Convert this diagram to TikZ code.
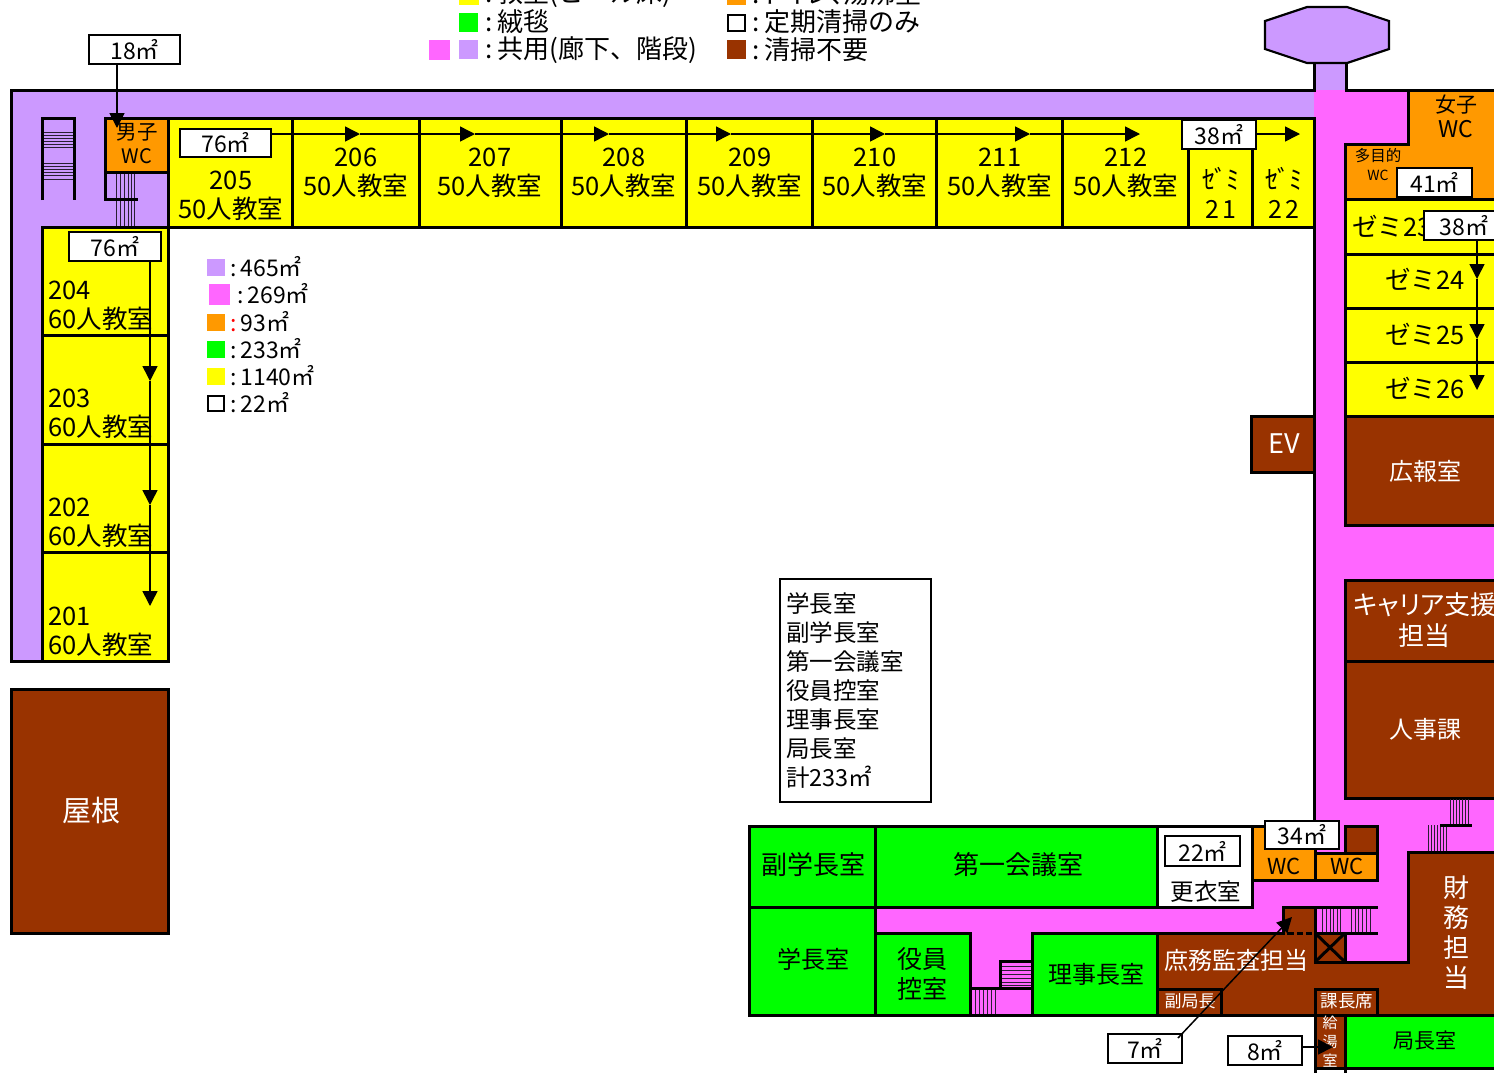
\documentclass[tikz,border=0pt]{standalone}
\usepackage{fontspec}
\setmainfont{Noto Sans CJK JP}
\newfontfamily\propfont[RawFeature=+palt]{Noto Sans CJK JP}
\usetikzlibrary{arrows.meta}
\definecolor{lilac}{HTML}{CC99FF}
\definecolor{pinkc}{HTML}{FF66FF}
\definecolor{yel}{HTML}{FFFF00}
\definecolor{org}{HTML}{FF9900}
\definecolor{grn}{HTML}{00FF00}
\definecolor{brn}{HTML}{993300}
\tikzset{
  wall/.style={line width=3pt,draw=black},
  treads/.style={line width=0.9pt,draw=black!80!lilac},
  tx/.style 2 args={font=\fontsize{#1}{#2}\selectfont,inner sep=0pt,align=center},
  lbl/.style={tx={25.5}{29}},
  wlbl/.style={tx={24}{29},text=white},
  areabox/.style={draw=black,line width=1.8pt,fill=white,inner sep=0pt,font=\fontsize{23}{23}\selectfont},
  conn/.style={line width=1.5pt,draw=black,-{Triangle[length=15pt,width=15pt]}},
  keytext/.style={tx={26}{26},anchor=west},
  areatext/.style={tx={23}{23},anchor=west}
}
\newcommand{\sqm}{㎡}
\newcommand{\colonsp}{:\hspace{5pt}}
\newcommand{\areacolon}{:\hspace{4pt}}
\newcommand{\zemi}{{\fontsize{26}{26}\selectfont ｾ\hspace{-1pt}ﾞ\hspace{-1pt}ﾐ}}
\begin{document}
\begin{tikzpicture}[x=1pt,y=-1pt]
\clip (0,0) rectangle (1494,1072);
\fill[white] (0,0) rectangle (1494,1072);
% ---- floor fills
\fill[lilac] (11,90) -- (1314,90) -- (1314,118) -- (168.5,118) -- (168.5,227) -- (42.5,227) -- (42.5,661) -- (11,661) -- cycle;
\fill[pinkc] (1314,90) rectangle (1408,144);
\fill[pinkc] (1314,90) rectangle (1346,880);
\fill[pinkc] (1346,525) rectangle (1500,580);
\fill[pinkc] (1346,798) rectangle (1500,852);
\fill[pinkc] (1377,798) rectangle (1408,962);
\fill[pinkc] (1157,880) rectangle (1408,907);
\fill[pinkc] (875.5,907) rectangle (1283,933);
\fill[pinkc] (970,933) rectangle (1032,1015);
\fill[pinkc] (1315,907) rectangle (1408,962);
\fill[brn] (1157,933) -- (1283,933) -- (1283,907) -- (1315,907) -- (1315,962) -- (1408,962) -- (1408,852) -- (1500,852) -- (1500,1015) -- (1157,1015) -- cycle;
% octagon and stem
\fill[lilac] (1314,63) rectangle (1346,90);
\draw[wall] (1314,90) -- (1314,63) (1346,90) -- (1346,63);
\draw[wall,fill=lilac,line width=2.2pt] (1307,7) -- (1347,7) -- (1389,21) -- (1389,49) -- (1347,63) -- (1307,63) -- (1265,49) -- (1265,21) -- cycle;
% outer walls
\draw[wall] (1315.5,90) -- (11.2,90) -- (11.2,661) -- (42.5,661);
\draw[wall] (1344.5,90) -- (1500,90);
\draw[wall] (1314,227) -- (1314,825);
% left stair
\draw[treads] \foreach \y in {132,135,138,141,144,147,163,166,169,172,175,179} {(43,\y) -- (73,\y)};
\draw[wall] (42.5,200) -- (42.5,118) -- (74.5,118) -- (74.5,200);
% treads below men's WC
\draw[treads] \foreach \x in {116,120,124,128,131,134} {(\x,172) -- (\x,226)};
% men's WC
\draw[wall,fill=org] (105,118) rectangle (168.5,172);
\draw[wall] (105,172) -- (105,199) -- (138,199);
% top classrooms
\foreach \a/\b in {168.5/292.5,292.5/419.5,419.5/561.5,561.5/686.5,686.5/812.5,812.5/936.5,936.5/1062.5,1062.5/1188.5,1188.5/1252,1252/1314}
  \draw[wall,fill=yel] (\a,118) rectangle (\b,227);
% left classrooms
\foreach \a/\b in {227/335,335/444,444/552,552/661}
  \draw[wall,fill=yel] (42.5,\a) rectangle (168.5,\b);
% right column
\draw[wall,fill=org] (1408,90) rectangle (1500,199);
\draw[wall,fill=org] (1345.5,144) rectangle (1408,199);
\fill[org] (1400,146) rectangle (1420,197.5);
\draw[wall,fill=yel] (1345.5,199) rectangle (1500,254);
\draw[wall,fill=yel] (1345.5,254) rectangle (1500,308);
\draw[wall,fill=yel] (1345.5,308) rectangle (1500,362);
\draw[wall,fill=yel] (1345.5,362) rectangle (1500,416);
\draw[wall,fill=brn] (1345.5,416) rectangle (1500,525);
\draw[wall,fill=brn] (1345.5,580) rectangle (1500,661);
\draw[wall,fill=brn] (1345.5,661) rectangle (1500,798);
\draw[wall,fill=brn] (1251,416) rectangle (1314,472);
% roof
\draw[wall,fill=brn] (11.2,689) rectangle (168.5,933);
% lower block: treads by HR
\draw[treads] \foreach \x in {1450,1453,1456,1459,1462,1465,1468} {(\x,799) -- (\x,825)};
\draw[treads] \foreach \x in {1428,1431,1434,1437,1440,1443,1446} {(\x,825) -- (\x,852)};
\draw[wall] (1440,825) -- (1472,825);
% lower block rooms
\draw[wall,fill=grn] (749.5,826) rectangle (875.5,907);
\draw[wall,fill=grn] (875.5,826) rectangle (1157,907);
\draw[wall,fill=grn] (749.5,907) rectangle (875.5,1015);
\draw[wall,fill=grn] (875.5,933) rectangle (970,1015);
\draw[wall,fill=grn] (1032,933) rectangle (1157,1015);
\draw[wall,fill=white] (1157,826) rectangle (1252,907);
\draw[wall,fill=org] (1252,826) rectangle (1315,880);
\draw[wall,fill=org] (1315,853) rectangle (1377,880);
\draw[wall,fill=brn] (1345,826) rectangle (1377,853);
% stairs near 役員控室
\draw[treads] \foreach \y in {966,970,974,978,982,985} {(1001,\y) -- (1031,\y)};
\draw[treads] \foreach \x in {975,979,983,987,991,995} {(\x,989) -- (\x,1014)};
\draw[wall] (970,988) -- (1032,988);
\draw[wall] (1000,988) -- (1000,961) -- (1032,961);
% brown wing walls
\draw[treads] \foreach \x in {1322.5,1326,1330,1333.5,1337,1340.5,1351.5,1355,1358.5,1362,1366,1370} {(\x,908) -- (\x,932)};
\draw[wall] (1157,933) -- (1283,933) -- (1283,907) -- (1378,907);
\draw[wall,dash pattern=on 7pt off 3pt on 6pt off 3pt on 6pt off 3pt on 6pt] (1287,933) -- (1315,933);
\draw[wall] (1315,933) -- (1378,933);
\draw[wall] (1315,907) -- (1315,962) -- (1408,962) -- (1408,852) -- (1500,852);
\fill[brn] (1316.5,934.5) rectangle (1343.5,960.5);
\draw[wall] (1345,933) -- (1345,962);
\draw[wall] (1315,933) -- (1345,962) (1345,933) -- (1315,962);
\draw[wall] (749.5,1015) -- (1500,1015);
% small brown rooms
\draw[wall] (1157,989) -- (1221,989) -- (1221,1015);
\draw[wall] (1315,1015) -- (1315,989) -- (1377,989) -- (1377,1015);
\draw[wall,fill=brn] (1315,1015) rectangle (1345,1068);
\draw[wall] (1315,1068) -- (1315,1075) (1345,1068) -- (1345,1075);
\draw[wall,fill=grn] (1345,1015) rectangle (1500,1068);
% ---- room labels
\node[tx={20.5}{25}] (wcm) at (137,144) {男子\\[-1pt]{\fontsize{20}{20}\selectfont WC}};
\node[lbl] (r205) at (231,196) {205\\50人教室};
\node[lbl] (r206) at (356,173) {206\\50人教室};
\node[lbl] (r207) at (490,173) {207\\50人教室};
\node[lbl] (r208) at (624,173) {208\\50人教室};
\node[lbl] (r209) at (750,173) {209\\50人教室};
\node[lbl] (r210) at (875,173) {210\\50人教室};
\node[lbl] (r211) at (1000,173) {211\\50人教室};
\node[lbl] (r212) at (1126,173) {212\\50人教室};
\node[tx={25}{29}] (r21) at (1221,193) {\zemi\\2\hspace{3pt}1};
\node[tx={25}{29}] (r22) at (1284,193) {\zemi\\2\hspace{3pt}2};
\node[lbl,align=left,anchor=west] (r204) at (48,305.5) {204\\60人教室};
\node[lbl,align=left,anchor=west] (r203) at (48,414) {203\\60人教室};
\node[lbl,align=left,anchor=west] (r202) at (48,523) {202\\60人教室};
\node[lbl,align=left,anchor=west] (r201) at (48,631.5) {201\\60人教室};
\node[tx={15.5}{19}] (wcx) at (1378,165) {多目的\\{\fontsize{14}{14}\selectfont WC}};
\node[tx={21}{25}] (wcf) at (1456,116) {女子\\{\fontsize{23}{23}\selectfont WC}};
\node[lbl,anchor=west] (r23) at (1352,226) {ゼミ23};
\node[lbl] (r24) at (1425,279) {ゼミ24};
\node[lbl] (r25) at (1425,334) {ゼミ25};
\node[lbl] (r26) at (1425,388) {ゼミ26};
\node[tx={27}{27},text=white] (ev) at (1284,444) {EV};
\node[wlbl] (pr) at (1425,471) {広報室};
\node[tx={26}{31},text=white] (car) at (1424,620) {\propfont\hspace*{2pt}キャリア支援\\担当};
\node[wlbl] (hr) at (1425,729) {人事課};
\node[tx={29}{29},text=white] (roof) at (91,811) {屋根};
\node[tx={26}{26}] (vp) at (813,865) {副学長室};
\node[tx={26}{26}] (mr1) at (1018,865) {第一会議室};
\node[tx={24}{24}] (pres) at (813,959) {学長室};
\node[tx={25}{30}] (off) at (922,974) {役員\\控室};
\node[tx={24}{24}] (chair) at (1096,974) {理事長室};
\node[tx={23.5}{24}] (lock) at (1206,892) {更衣室};
\node[tx={21}{21}] (dg) at (1425,1041) {局長室};
\node[wlbl] (gen) at (1236,960) {庶務監査担当};
\node[tx={17}{17},text=white] (ddg) at (1190,1001) {副局長};
\node[tx={17.5}{17},text=white] (chief) at (1347,1001) {課長席};
\node[tx={15}{19},text=white] (kit) at (1330,1042) {給\\湯\\室};
\node[tx={26}{30},text=white] (fin) at (1456,933) {財\\務\\担\\当};
\node[tx={22}{22}] (wc1) at (1284,866) {WC};
\node[tx={22}{22}] (wc2) at (1347,866) {WC};
% ---- info box
\node[draw=black,line width=1.8pt,fill=white,tx={23.5}{29.1},align=left,inner xsep=6pt,text width=139pt,minimum height=223pt] (info) at (855.5,690.5)
 {学長室\\副学長室\\第一会議室\\役員控室\\理事長室\\局長室\\計233\sqm};
% ---- area boxes
\newcommand{\ab}[1]{\raisebox{-3pt}{#1\sqm}}
\node[areabox,minimum width=91pt,minimum height=29pt] (b18) at (134.5,49.5) {\raisebox{-4pt}{18\sqm}};
\node[areabox,minimum width=91pt,minimum height=28pt] (b76a) at (225.5,143) {\ab{76}};
\node[areabox,minimum width=74pt,minimum height=29pt] (b38a) at (1219,134.5) {38\sqm};
\node[areabox,minimum width=92pt,minimum height=29pt] (b76b) at (115,246.5) {\ab{76}};
\node[areabox,minimum width=75pt,minimum height=29pt] (b41) at (1434.5,182.5) {41\sqm};
\node[areabox,minimum width=80pt,minimum height=29pt] (b38b) at (1464,225.5) {38\sqm};
\node[areabox,minimum width=75pt,minimum height=30pt] (b22) at (1202.5,851) {22\sqm};
\node[areabox,minimum width=74pt,minimum height=28pt] (b34) at (1302,835) {34\sqm};
\node[areabox,minimum width=74pt,minimum height=29pt] (b7) at (1145,1048.5) {\ab{7}};
\node[areabox,minimum width=74pt,minimum height=29pt] (b8) at (1265,1050.5) {\ab{8}};
% ---- connectors
\coordinate (t18) at (117,128);
\draw[conn] (b18.south -| t18) -- (t18);
\coordinate (c206) at (360,134);
\coordinate (c207) at (475,134);
\coordinate (c208) at (609,134);
\coordinate (c209) at (731,134);
\coordinate (c210) at (885,134);
\coordinate (c211) at (1030,134);
\coordinate (c212) at (1140,134);
\draw[conn] (b76a.east |- c206) -- (c206);
\draw[conn] (c206) -- (c207);
\draw[conn] (c207) -- (c208);
\draw[conn] (c208) -- (c209);
\draw[conn] (c209) -- (c210);
\draw[conn] (c210) -- (c211);
\draw[conn] (c211) -- (c212);
\coordinate (c22) at (1300,134);
\draw[conn] (b38a.east |- c22) -- (c22);
\coordinate (c203) at (150,381);
\coordinate (c202) at (150,505);
\coordinate (c201) at (150,606);
\draw[conn] (b76b.south -| c203) -- (c203);
\draw[conn] (c203) -- (c202);
\draw[conn] (c202) -- (c201);
\coordinate (c24) at (1477,279);
\coordinate (c25) at (1477,339);
\coordinate (c26) at (1477,390);
\draw[conn] (b38b.south -| c24) -- (c24);
\draw[conn] (c24) -- (c25);
\draw[conn] (c25) -- (c26);
\coordinate (c7) at (1292,917);
\coordinate (s7) at (1178,1038);
\draw[conn] (s7) -- (c7);
\coordinate (c8) at (1333,1047);
\draw[conn] (b8.east |- c8) -- (c8);
% ---- top legend
\fill[yel] (459,-8) rectangle (479,5);
\fill[grn] (459,13) rectangle (478,32);
\fill[pinkc] (429,40) rectangle (450,60);
\fill[lilac] (459,40) rectangle (478,59);
\fill[org] (727,-8) rectangle (746,5);
\draw[line width=2pt,fill=white] (728,15) rectangle (745,31);
\fill[brn] (727,40) rectangle (746,59);
\node[keytext] (k1) at (485,-6) {\colonsp 教室(ビール床)};
\node[keytext] (k2) at (485,22) {\colonsp 絨毯};
\node[keytext] (k3) at (485,50) {\colonsp 共用(廊下、階段)};
\node[keytext] (k4) at (752,-6) {\colonsp {\propfont トイレ、湯沸室}};
\node[keytext] (k5) at (752,22) {\colonsp 定期清掃のみ};
\node[keytext] (k6) at (752,50) {\colonsp 清掃不要};
% ---- area legend
\fill[lilac] (207,259) rectangle (225,276);
\fill[pinkc] (209,284) rectangle (230,305);
\fill[org] (207,314) rectangle (225,331);
\fill[grn] (207,341) rectangle (225,358);
\fill[yel] (207,368) rectangle (225,385);
\draw[line width=1.6pt,fill=white] (208,396) rectangle (224,411);
\node[areatext] (a1) at (230,267) {\areacolon 465\sqm};
\node[areatext] (a2) at (237,294) {\areacolon 269\sqm};
\node[areatext] (a3) at (230,322) {{\color{red}\areacolon}93\sqm};
\node[areatext] (a4) at (230,349) {\areacolon 233\sqm};
\node[areatext] (a5) at (230,376) {\areacolon 1140\sqm};
\node[areatext] (a6) at (230,403) {\areacolon 22\sqm};
\end{tikzpicture}
\end{document}
